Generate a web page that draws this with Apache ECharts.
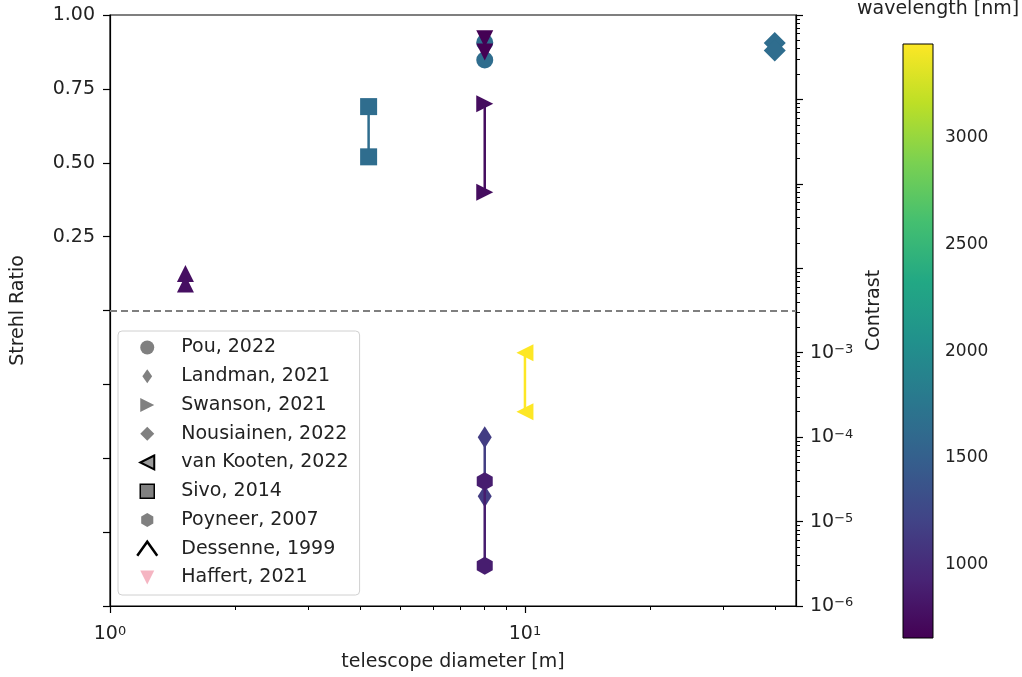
<!DOCTYPE html>
<html>
<head>
<meta charset="utf-8">
<script src="https://cdn.jsdelivr.net/npm/echarts@6/dist/echarts.min.js"></script>
<style>
html,body{margin:0;padding:0;background:#fff;}
#chart{width:1022px;height:677px;}
</style>
</head>
<body>
<div id="chart"></div>
<script>
// ---------------- data ----------------
const seriesNames = ['Pou, 2022','Landman, 2021','Swanson, 2021','Nousiainen, 2022','van Kooten, 2022','Sivo, 2014','Poyneer, 2007','Dessenne, 1999','Haffert, 2021'];
const diameters   = [8, 8, 8, 40, 10, 4.2, 8, 1.52, 8];            // telescope diameter [m]
const wavelengths = [1650, 1150, 750, 1650, 3440, 1650, 880, 770, 656]; // nm
const usesContrast = [false, true, false, false, true, false, true, false, false];

const pouStrehl        = [0.907, 0.848];
const landmanContrast  = [1e-4, 2e-5];
const swansonStrehl    = [0.70, 0.40];
const nousiainenStrehl = [0.905, 0.88];
const vanKootenContrast= [1e-3, 2e-4];
const sivoStrehl       = [0.69, 0.52];
const poyneerContrast  = [3e-5, 3e-6];
const dessenneStrehl   = [0.125, 0.09];
const haffertStrehl    = [0.92, 0.875];
const seriesValues = [pouStrehl, landmanContrast, swansonStrehl, nousiainenStrehl, vanKootenContrast, sivoStrehl, poyneerContrast, dessenneStrehl, haffertStrehl];

// tick labels
const diameterTicks      = [1, 10];
const diameterMinorTicks = [2, 3, 4, 5, 6, 7, 8, 9, 20, 30, 40];
const strehlTicks        = [0.25, 0.5, 0.75, 1.0];
const contrastTicks      = [1e-6, 1e-5, 1e-4, 1e-3];
const contrastMajorTicks = [1e-6, 1e-5, 1e-4, 1e-3, 1e-2, 1e-1, 1, 10];
const minorMultipliers   = [2, 3, 4, 5, 6, 7, 8, 9];
const wavelengthTicks    = [1000, 1500, 2000, 2500, 3000];
const wavelengthRange    = [656, 3440];

// viridis colormap
const viridis = ['#440154','#482475','#414487','#355f8d','#2a788e','#21918c','#22a884','#44bf70','#7ad151','#bddf26','#fde725'];

// ---------------- helpers ----------------
const contrastMinorTicks = [];
contrastMajorTicks.slice(0, -1).forEach(function (d) {
  minorMultipliers.forEach(function (m) { contrastMinorTicks.push(m * d); });
});

function hexToRgb(h){ return [parseInt(h.substr(1,2),16), parseInt(h.substr(3,2),16), parseInt(h.substr(5,2),16)]; }
function colorFor(w){
  let t = (w - wavelengthRange[0]) / (wavelengthRange[1] - wavelengthRange[0]);
  t = Math.max(0, Math.min(1, t));
  const n = viridis.length - 1;
  const i = Math.min(Math.floor(t * n), n - 1);
  const f = t * n - i;
  const a = hexToRgb(viridis[i]), b = hexToRgb(viridis[i+1]);
  const c = a.map(function (v, k) { return Math.round(v + (b[k] - v) * f); });
  return 'rgb(' + c.join(',') + ')';
}
function powLabel(v){
  const e = Math.round(Math.log10(v));
  return '{b|10}{s|' + (e < 0 ? '\u2212' + (-e) : String(e)) + '}';
}

const FONT = 'DejaVu Sans';
const TXT = '#222';
const richPow = {
  b: {fontSize: 19, color: TXT, fontFamily: FONT},
  s: {fontSize: 13, color: TXT, fontFamily: FONT, verticalAlign: 'top'}
};

const pRight = 'path://M0,0 L10,5 L0,10 Z';
const pLeft  = 'path://M10,0 L0,5 L10,10 Z';
const pDown  = 'path://M0,0 L10,0 L5,10 Z';
const pHex   = 'path://M4.33,0 L8.66,2.5 L8.66,7.5 L4.33,10 L0,7.5 L0,2.5 Z';
const pThinD = 'path://M3.5,0 L7,5 L3.5,10 L0,5 Z';
const pDiam  = 'path://M5,0 L10,5 L5,10 L0,5 Z';
const pSq    = 'path://M0,0 L10,0 L10,10 L0,10 Z';
const pCaret = 'path://M0,8 L5,1 L10,8';

const symbols     = ['circle', 'diamond', pRight, 'diamond', pLeft, 'rect', pHex, 'triangle', pDown];
const symbolSizes = [17, [14, 22], 17, 22, 17, 17, [16, 18], 17, 17];

const legendIcons  = ['circle', pThinD, pRight, pDiam, pLeft, pSq, pHex, pCaret, pDown];
const legendStyles = [
  {color:'#808080', borderWidth:0},
  {color:'#808080', borderWidth:0},
  {color:'#808080', borderWidth:0},
  {color:'#808080', borderWidth:0},
  {color:'#9a9a9a', borderColor:'#000', borderWidth:2},
  {color:'#808080', borderColor:'#000', borderWidth:1.5},
  {color:'#808080', borderWidth:0},
  {color:'rgba(0,0,0,0)', borderColor:'#000', borderWidth:2.5},
  {color:'#f5b5c2', borderWidth:0}
];

// ---------------- series ----------------
const series = seriesNames.map(function (name, i) {
  const col = colorFor(wavelengths[i]);
  const s = {
    name: name,
    type: 'line',
    xAxisIndex: 0,
    yAxisIndex: usesContrast[i] ? 1 : 0,
    data: seriesValues[i].map(function (v) { return [diameters[i], v]; }),
    symbol: symbols[i],
    symbolSize: symbolSizes[i],
    showSymbol: true,
    itemStyle: {color: col, opacity: 1},
    lineStyle: {color: col, width: 2.5},
    emphasis: {disabled: true},
    silent: true,
    z: 3 + i
  };
  if (i === 0) {
    s.markLine = {
      silent: true, symbol: ['none','none'], label: {show: false}, animation: false,
      lineStyle: {type: [7, 4], color: '#7f7f7f', width: 2},
      emphasis: {disabled: true},
      data: [{yAxis: 0}]
    };
  }
  return s;
});

// colorbar
series.push({
  type: 'custom',
  xAxisIndex: 2,
  yAxisIndex: 3,
  silent: true,
  data: [[0, wavelengthRange[0]]],
  renderItem: function (params, api) {
    const p0 = api.coord([0, wavelengthRange[0]]);
    const p1 = api.coord([1, wavelengthRange[1]]);
    return {
      type: 'rect',
      shape: {x: p0[0], y: p1[1], width: p1[0] - p0[0], height: p0[1] - p1[1]},
      style: {
        fill: new echarts.graphic.LinearGradient(0, 1, 0, 0,
          viridis.map(function (c, k) { return {offset: k / (viridis.length - 1), color: c}; })),
        stroke: '#000', lineWidth: 1
      }
    };
  }
});

const axisLineStyle = {color: '#000', width: 1.2};

const option = {
  animation: false,
  textStyle: {fontFamily: FONT},
  grid: [
    {left: 110, top: 15, width: 686, height: 592, show: true, borderColor: '#000', borderWidth: 1.2, backgroundColor: 'transparent'},
    {left: 903, top: 44, width: 30, height: 594}
  ],
  graphic: [
    {type: 'text', left: 857, top: 0, silent: true,
     style: {text: 'wavelength [nm]', fontSize: 19, fontFamily: FONT, fill: TXT}}
  ],
  legend: {
    orient: 'vertical', left: 118, top: 331,
    padding: [7, 11, 8, 18],
    itemWidth: 40, itemHeight: 14, itemGap: 9.75,
    backgroundColor: 'rgba(255,255,255,0.85)', borderColor: '#d0d0d0', borderWidth: 1, borderRadius: 4,
    selectedMode: false,
    textStyle: {fontSize: 19, color: TXT, fontFamily: FONT, padding: [0, 0, 0, 9]},
    data: seriesNames.map(function (n, i) { return {name: n, icon: legendIcons[i], itemStyle: legendStyles[i]}; })
  },
  xAxis: [
    {
      type: 'log', gridIndex: 0, min: 1, max: 45, position: 'bottom',
      axisLine: {show: true, onZero: false, lineStyle: axisLineStyle},
      axisTick: {show: true, length: 7, customValues: diameterTicks, lineStyle: axisLineStyle},
      axisLabel: {customValues: diameterTicks, formatter: powLabel, rich: richPow, margin: 19},
      splitLine: {show: false}, minorTick: {show: false},
      name: 'telescope diameter [m]', nameLocation: 'middle', nameGap: 47,
      nameTextStyle: {fontSize: 19, color: TXT, fontFamily: FONT}
    },
    {
      type: 'log', gridIndex: 0, min: 1, max: 45, position: 'bottom',
      axisLine: {show: false, onZero: false},
      axisTick: {show: true, length: 4, customValues: diameterMinorTicks, lineStyle: {color: '#000', width: 1}},
      axisLabel: {show: false}, splitLine: {show: false}
    },
    {type: 'value', gridIndex: 1, min: 0, max: 1, show: false}
  ],
  yAxis: [
    {
      type: 'value', gridIndex: 0, min: -1, max: 1, interval: 0.25, position: 'left',
      axisLine: {show: true, onZero: false, lineStyle: axisLineStyle},
      axisTick: {show: true, length: 7, lineStyle: axisLineStyle},
      axisLabel: {customValues: strehlTicks, formatter: function (v) { return v.toFixed(2); }, fontSize: 19, color: TXT, margin: 15},
      splitLine: {show: false},
      name: 'Strehl Ratio', nameLocation: 'middle', nameGap: 82, nameRotate: 90,
      nameTextStyle: {fontSize: 19, color: TXT, fontFamily: FONT}
    },
    {
      type: 'log', gridIndex: 0, min: 1e-6, max: 10, position: 'right',
      axisLine: {show: true, onZero: false, lineStyle: axisLineStyle},
      axisTick: {show: true, length: 7, customValues: contrastMajorTicks, lineStyle: axisLineStyle},
      axisLabel: {customValues: contrastTicks, formatter: powLabel, rich: richPow, margin: 14},
      splitLine: {show: false},
      name: 'Contrast', nameLocation: 'middle', nameGap: 63, nameRotate: 90,
      nameTextStyle: {fontSize: 19, color: TXT, fontFamily: FONT}
    },
    {
      type: 'log', gridIndex: 0, min: 1e-6, max: 10, position: 'right',
      axisLine: {show: false, onZero: false},
      axisTick: {show: true, length: 4, customValues: contrastMinorTicks, lineStyle: {color: '#000', width: 1}},
      axisLabel: {show: false}, splitLine: {show: false}
    },
    {
      type: 'value', gridIndex: 1, min: wavelengthRange[0], max: wavelengthRange[1], position: 'right',
      axisLine: {show: false},
      axisTick: {show: true, length: 7, customValues: wavelengthTicks, lineStyle: axisLineStyle},
      axisLabel: {customValues: wavelengthTicks, formatter: function (v) { return String(v); }, fontSize: 17, color: TXT, margin: 12},
      splitLine: {show: false}
    }
  ],
  series: series
};

const chart = echarts.init(document.getElementById('chart'), null, {renderer: 'canvas'});
chart.setOption(option);
</script>
</body>
</html>
